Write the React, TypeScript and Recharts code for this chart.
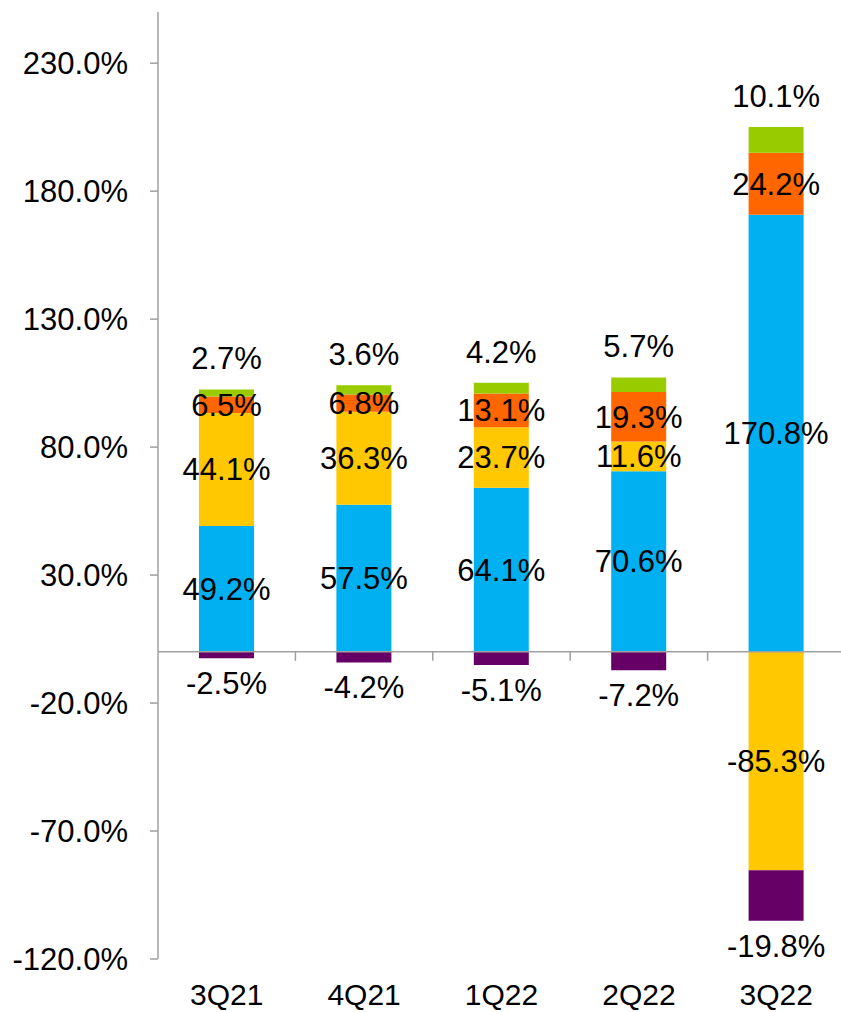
import React from 'react';
import { BarChart, Bar, XAxis, YAxis, ReferenceLine, LabelList } from 'recharts';

const quarters = ['3Q21', '4Q21', '1Q22', '2Q22', '3Q22'];
const blueValues = [49.2, 57.5, 64.1, 70.6, 170.8];
const yellowValues = [44.1, 36.3, 23.7, 11.6, -85.3];
const orangeValues = [6.5, 6.8, 13.1, 19.3, 24.2];
const greenValues = [2.7, 3.6, 4.2, 5.7, 10.1];
const purpleValues = [-2.5, -4.2, -5.1, -7.2, -19.8];
const yTicks = [-120, -70, -20, 30, 80, 130, 180, 230];

const data = quarters.map((q, i) => ({
  q,
  blue: blueValues[i],
  yellow: yellowValues[i],
  orange: orangeValues[i],
  green: greenValues[i],
  purple: purpleValues[i],
}));

const FONT = '"Liberation Sans", Arial, sans-serif';
const FS = 31;
const AXIS = '#A0A0A0';

const fmt = (v: any) => `${Number(v).toFixed(1)}%`;

const makeLabel = (mode: 'center' | 'above' | 'below') => (props: any) => {
  const { x, y, width, height, value } = props;
  if (value === undefined || value === null) return null;
  const top = Math.min(y, y + height);
  const bottom = Math.max(y, y + height);
  let cy = (top + bottom) / 2;
  if (mode === 'above') cy = top - 31;
  if (mode === 'below') cy = bottom + 25;
  return (
    <text
      x={x + width / 2}
      y={cy}
      dy="0.35em"
      textAnchor="middle"
      fill="#000"
      fontSize={FS}
      fontFamily={FONT}
    >
      {fmt(value)}
    </text>
  );
};

const ZeroLine = (props: any) => {
  const { x1, y1, x2, y2 } = props;
  const n = quarters.length;
  const step = (x2 - x1) / n;
  return (
    <g>
      <line x1={x1} y1={y1} x2={x2} y2={y2} stroke={AXIS} strokeWidth={1.5} />
      {Array.from({ length: n }, (_, k) => (
        <line
          key={k}
          x1={x1 + step * (k + 1)}
          x2={x1 + step * (k + 1)}
          y1={y1}
          y2={y1 + 9}
          stroke={AXIS}
          strokeWidth={1.5}
        />
      ))}
    </g>
  );
};

export default function App() {
  return (
    <div style={{ position: 'absolute', left: 0, top: 0, width: 841, height: 1012, overflow: 'hidden', background: '#fff' }}>
      <BarChart
        width={845}
        height={1012}
        data={data}
        stackOffset="sign"
        margin={{ top: 12, right: 0, bottom: 0, left: 0 }}
        barSize={55}
      >
        <XAxis
          dataKey="q"
          height={53}
          axisLine={false}
          tickLine={false}
          tickSize={0}
          tickMargin={25}
          tick={{ fill: '#000', fontSize: 30, fontFamily: FONT }}
          interval={0}
        />
        <YAxis
          width={158}
          domain={[-120, 250]}
          ticks={yTicks}
          type="number"
          allowDataOverflow
          tickFormatter={fmt}
          axisLine={{ stroke: AXIS, strokeWidth: 1.5 }}
          tickLine={{ stroke: AXIS, strokeWidth: 1.5 }}
          tickSize={8}
          tickMargin={22}
          tick={{ fill: '#000', fontSize: FS, fontFamily: FONT }}
        />
        <Bar dataKey="blue" stackId="s" fill="#00B0F0" isAnimationActive={false}>
          <LabelList dataKey="blue" content={makeLabel('center')} />
        </Bar>
        <Bar dataKey="yellow" stackId="s" fill="#FFC800" isAnimationActive={false}>
          <LabelList dataKey="yellow" content={makeLabel('center')} />
        </Bar>
        <Bar dataKey="orange" stackId="s" fill="#FF6600" isAnimationActive={false}>
          <LabelList dataKey="orange" content={makeLabel('center')} />
        </Bar>
        <Bar dataKey="green" stackId="s" fill="#99CC00" isAnimationActive={false}>
          <LabelList dataKey="green" content={makeLabel('above')} />
        </Bar>
        <Bar dataKey="purple" stackId="s" fill="#660066" isAnimationActive={false}>
          <LabelList dataKey="purple" content={makeLabel('below')} />
        </Bar>
        <ReferenceLine y={0} shape={ZeroLine} />
      </BarChart>
    </div>
  );
}
